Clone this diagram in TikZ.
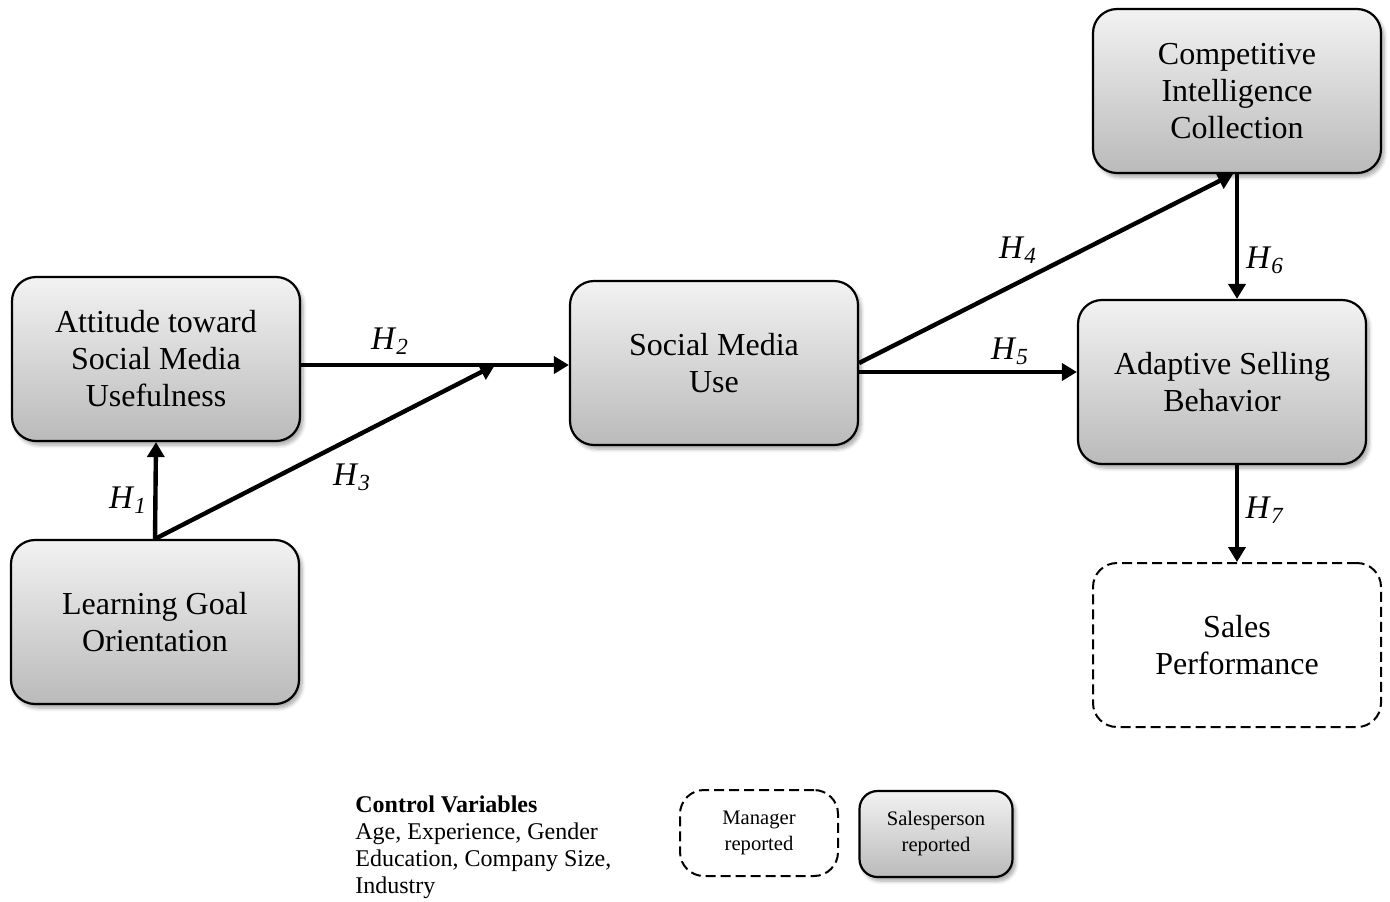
\documentclass[tikz,border=0pt]{standalone}
\usepackage{fontspec}
\setmainfont{Liberation Serif}
\usetikzlibrary{arrows.meta,shadows.blur}

\newcommand{\hyp}[1]{\textit{H}\textsubscript{\textit{#1}}}

\begin{document}
\begin{tikzpicture}[x=0.5pt,y=-0.5pt,->,>={Triangle[length=7.5pt,width=8.5pt]}]
  \tikzstyle{construct}=[rectangle,rounded corners=12pt,draw=black,line width=1.1pt,minimum width=144pt,minimum height=82pt,align=center,font=\fontsize{16}{18.5}\selectfont,top color=black!5,bottom color=black!27,blur shadow={shadow xshift=1.5pt,shadow yshift=-2pt,shadow blur steps=6,shadow opacity=35}]
  \tikzstyle{outcome}=[rectangle,rounded corners=12pt,draw=black,line width=1pt,dash pattern=on 5pt off 2.5pt,minimum width=144pt,minimum height=82pt,align=center,font=\fontsize{16}{18.5}\selectfont]
  \tikzstyle{path}=[line width=2.2pt]
  \tikzstyle{hlabel}=[font=\fontsize{16.5}{18}\selectfont]
  \useasboundingbox (0,0) rectangle (1390,901);

  \node[construct] (attitude) at (156,359) {Attitude toward\\Social Media\\Usefulness};
  \node[construct] (learning) at (155,622) {Learning Goal\\Orientation};
  \node[construct] (social) at (714,363) {Social Media\\Use};
  \node[construct] (intel) at (1237,91) {Competitive\\Intelligence\\Collection};
  \node[construct] (adaptive) at (1222,382) {Adaptive Selling\\Behavior};
  \node[outcome] (sales) at (1237,645) {Sales\\Performance};

  \coordinate (h3end) at (495,365);
  \coordinate (h5start) at (858,372);
  \coordinate (h6start) at (1237,174);

  \path[path] (learning.north) edge (attitude.south);
  \path[path] (learning.north) edge (h3end);
  \path[path] (attitude.east |- h3end) edge (social.west |- h3end);
  \path[path] (social.east) edge ([xshift=-2pt]intel.south);
  \path[path] (h5start) edge (h5start -| adaptive.west);
  \path[path] (h6start) edge (h6start |- adaptive.north);
  \path[path] (adaptive.south -| sales.north) edge (sales.north);

  \node[hlabel] (lh1) at (128,500) {\hyp{1}};
  \node[hlabel] (lh2) at (390,341) {\hyp{2}};
  \node[hlabel] (lh3) at (352,477) {\hyp{3}};
  \node[hlabel] (lh4) at (1018,250) {\hyp{4}};
  \node[hlabel] (lh5) at (1010,351) {\hyp{5}};
  \node[hlabel] (lh6) at (1265,260) {\hyp{6}};
  \node[hlabel] (lh7) at (1265,510) {\hyp{7}};

  % legend
  \node[anchor=north west,align=left,inner sep=0pt,font=\fontsize{12}{13.5}\selectfont] (controls) at (355,795) {\textbf{Control Variables}\\Age, Experience, Gender\\Education, Company Size,\\Industry};
  \node[outcome,minimum width=79pt,minimum height=43pt,font=\fontsize{10.3}{13}\selectfont] (manager) at (759,833) {Manager\\reported};
  \node[construct,minimum width=76.5pt,minimum height=43pt,rounded corners=9pt,font=\fontsize{10.3}{13}\selectfont] (salesperson) at (936,834) {Salesperson\\reported};
\end{tikzpicture}
\end{document}
